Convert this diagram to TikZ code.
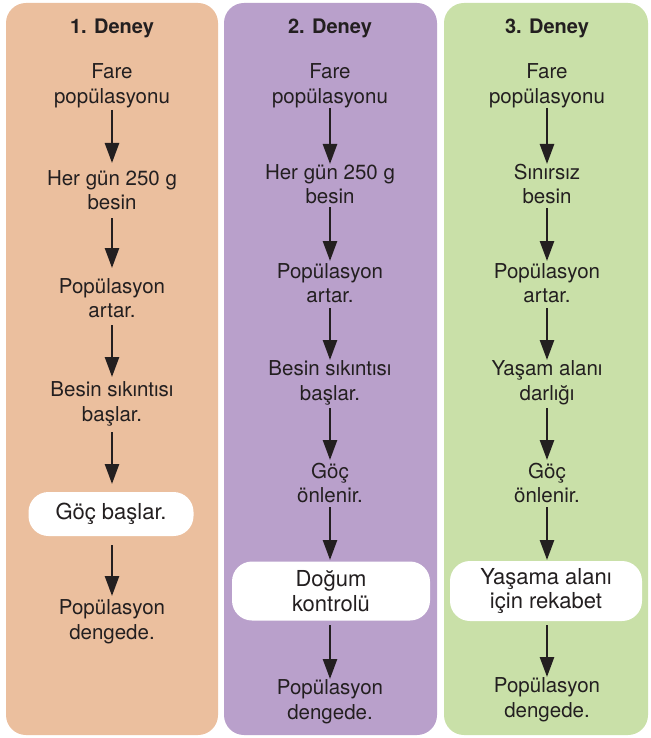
\documentclass[tikz,border=0pt]{standalone}
\usepackage{fontspec}
\setmainfont{TeX Gyre Heros}
\usetikzlibrary{arrows.meta}
\definecolor{colA}{HTML}{EBBF9E}
\definecolor{colB}{HTML}{B9A0CB}
\definecolor{colC}{HTML}{C9E0A8}
\definecolor{txt}{HTML}{231F20}
\begin{document}
\begin{tikzpicture}[x=1pt,y=-1pt,
  panel/.style={rounded corners=20pt},
  lbl/.style={align=center,text=txt,font=\fontsize{20.5}{24.5}\selectfont,inner sep=2pt},
  ttl/.style={align=center,text=txt,font=\bfseries\fontsize{20}{22}\selectfont},
  wbox/.style={lbl,fill=white,rounded corners=20pt,font=\fontsize{22}{24.5}\selectfont},
  arr/.style={draw=txt,line width=2.6pt,-{Triangle[length=20pt,width=14pt]}}]
\useasboundingbox (0,0) rectangle (650,738);
\fill[colA,panel] (6,3) rectangle (218,735);
\fill[colB,panel] (224,3) rectangle (437,735);
\fill[colC,panel] (444,3) rectangle (648,735);
% column 1
\node[ttl] (a0) at (112,28) {1. Deney};
\node[lbl] (a1) at (112,86) {Fare\\popülasyonu};
\node[lbl] (a2) at (112,190) {Her gün 250 g\\besin};
\node[lbl] (a3) at (112,298) {Popülasyon\\artar.};
\node[lbl] (a4) at (112,404) {Besin sıkıntısı\\başlar.};
\node[wbox,minimum width=165pt,minimum height=44pt] (a5) at (111,514) {Göç başlar.};
\node[lbl] (a6) at (112,622) {Popülasyon\\dengede.};
\coordinate (a1s) at (112,110); \coordinate (a2e) at (112,163);
\coordinate (a2s) at (112,218); \coordinate (a3e) at (112,268);
\coordinate (a3s) at (112,325); \coordinate (a4e) at (112,377);
\coordinate (a4s) at (112,432); \coordinate (a5e) at (112,484);
\coordinate (a5s) at (112,545); \coordinate (a6e) at (112,596);
\draw[arr] (a1s) -- (a2e);
\draw[arr] (a2s) -- (a3e);
\draw[arr] (a3s) -- (a4e);
\draw[arr] (a4s) -- (a5e);
\draw[arr] (a5s) -- (a6e);
% column 2
\node[ttl] (b0) at (330,28) {2. Deney};
\node[lbl] (b1) at (330,86) {Fare\\popülasyonu};
\node[lbl] (b2) at (330,184) {Her gün 250 g\\besin};
\node[lbl] (b3) at (330,283) {Popülasyon\\artar.};
\node[lbl] (b4) at (330,383) {Besin sıkıntısı\\başlar.};
\node[lbl] (b5) at (330,483) {Göç\\önlenir.};
\node[wbox,minimum width=198pt,minimum height=59pt] (b6) at (331,591) {Doğum\\kontrolü};
\node[lbl] (b7) at (330,702) {Popülasyon\\dengede.};
\coordinate (b1s) at (330,108); \coordinate (b2e) at (330,164);
\coordinate (b2s) at (330,207); \coordinate (b3e) at (330,261);
\coordinate (b3s) at (330,308); \coordinate (b4e) at (330,360);
\coordinate (b4s) at (330,408); \coordinate (b5e) at (330,460);
\coordinate (b5s) at (330,507); \coordinate (b6e) at (330,560);
\coordinate (b6s) at (330,625); \coordinate (b7e) at (330,679);
\draw[arr] (b1s) -- (b2e);
\draw[arr] (b2s) -- (b3e);
\draw[arr] (b3s) -- (b4e);
\draw[arr] (b4s) -- (b5e);
\draw[arr] (b5s) -- (b6e);
\draw[arr] (b6s) -- (b7e);
% column 3
\node[ttl] (c0) at (547,28) {3. Deney};
\node[lbl] (c1) at (547,86) {Fare\\popülasyonu};
\node[lbl] (c2) at (547,184) {Sınırsız\\besin};
\node[lbl] (c3) at (547,283) {Popülasyon\\artar.};
\node[lbl] (c4) at (547,383) {Yaşam alanı\\darlığı};
\node[lbl] (c5) at (547,483) {Göç\\önlenir.};
\node[wbox,minimum width=192pt,minimum height=60pt] (c6) at (546,591) {Yaşama alanı\\için rekabet};
\node[lbl] (c7) at (547,700) {Popülasyon\\dengede.};
\coordinate (c1s) at (547,108); \coordinate (c2e) at (547,164);
\coordinate (c2s) at (547,208); \coordinate (c3e) at (547,261);
\coordinate (c3s) at (547,308); \coordinate (c4e) at (547,360);
\coordinate (c4s) at (547,408); \coordinate (c5e) at (547,460);
\coordinate (c5s) at (547,507); \coordinate (c6e) at (547,560);
\coordinate (c6s) at (547,625); \coordinate (c7e) at (547,677);
\draw[arr] (c1s) -- (c2e);
\draw[arr] (c2s) -- (c3e);
\draw[arr] (c3s) -- (c4e);
\draw[arr] (c4s) -- (c5e);
\draw[arr] (c5s) -- (c6e);
\draw[arr] (c6s) -- (c7e);
\end{tikzpicture}
\end{document}
